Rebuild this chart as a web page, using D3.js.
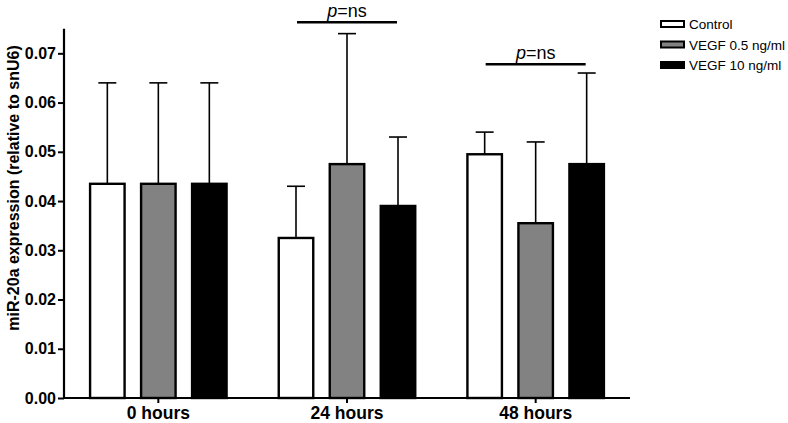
<!DOCTYPE html>
<html>
<head>
<meta charset="utf-8">
<script src="https://cdn.jsdelivr.net/npm/d3@7"></script>
<style>
  html, body { margin: 0; padding: 0; background: #fff; }
  svg { display: block; font-family: "Liberation Sans", Arial, Helvetica, sans-serif; }
</style>
</head>
<body>
<svg id="chart" width="788" height="423"></svg>
<script>
// ---- data ----
const groups = ["0 hours", "24 hours", "48 hours"];
const series = ["Control", "VEGF 0.5 ng/ml", "VEGF 10 ng/ml"];
const controlMean = [0.0435, 0.0325, 0.0495];
const controlErr  = [0.0640, 0.0430, 0.0540];
const lowMean     = [0.0435, 0.0475, 0.0355];
const lowErr      = [0.0640, 0.0740, 0.0520];
const highMean    = [0.0435, 0.0390, 0.0475];
const highErr     = [0.0640, 0.0530, 0.0660];
const yTicks = [0, 0.01, 0.02, 0.03, 0.04, 0.05, 0.06, 0.07];
const sigGroups = ["24 hours", "48 hours"];
const sigLevels = [0.0763, 0.0678];
const sigLabel = "ns";

const fills = ["#ffffff", "#828282", "#000000"];
const means = [controlMean, lowMean, highMean];
const errs = [controlErr, lowErr, highErr];

const svg = d3.select("#chart");
const left = 64, right = 630, bottom = 398;

const y = d3.scaleLinear().domain([0, 0.075]).range([bottom, 28.7]);
const x0 = d3.scaleBand().domain(groups).range([left, right]).paddingInner(0).paddingOuter(0);
const x1 = d3.scaleBand().domain(series).range([-68.25, 68.25]).paddingInner(0.3235).paddingOuter(0);

const data = [];
groups.forEach((g, gi) => {
  series.forEach((s, si) => {
    data.push({g, s, si, v: means[si][gi], e: errs[si][gi]});
  });
});

const cx = d => x0(d.g) + x0.bandwidth() / 2 + x1(d.s);

// error bars (drawn first, behind bars)
const eb = svg.append("g").attr("stroke", "#000").attr("stroke-width", 1.6);
data.forEach(d => {
  const mx = cx(d) + x1.bandwidth() / 2;
  eb.append("line").attr("x1", mx).attr("x2", mx).attr("y1", y(d.v)).attr("y2", y(d.e));
  eb.append("line").attr("x1", mx - 9).attr("x2", mx + 9).attr("y1", y(d.e)).attr("y2", y(d.e));
});

// bars
svg.append("g").selectAll("rect").data(data).join("rect")
  .attr("x", d => cx(d))
  .attr("y", d => y(d.v))
  .attr("width", x1.bandwidth())
  .attr("height", d => y(0) - y(d.v))
  .attr("fill", d => fills[d.si])
  .attr("stroke", "#000")
  .attr("stroke-width", 2.4);

// y axis
const yAxis = svg.append("g").attr("transform", `translate(${left},0)`)
  .call(d3.axisLeft(y).tickValues(yTicks).tickFormat(d3.format(".2f")).tickSize(6).tickPadding(2));
yAxis.select(".domain").remove();
yAxis.append("line").attr("x1", 0).attr("x2", 0).attr("y1", y(0) + 1).attr("y2", y(0.075))
  .attr("stroke", "#000").attr("stroke-width", 2.2);
yAxis.selectAll(".tick line").attr("stroke-width", 2);
yAxis.selectAll(".tick text").attr("font-size", 16).attr("font-weight", "bold").attr("fill", "#000")
  .attr("font-family", "Liberation Sans, Arial, sans-serif");

// x axis
const xAxis = svg.append("g").attr("transform", `translate(0,${bottom})`)
  .call(d3.axisBottom(x0).tickSize(5).tickPadding(4));
xAxis.select(".domain").remove();
xAxis.append("line").attr("x1", left - 1).attr("x2", right).attr("y1", 0).attr("y2", 0)
  .attr("stroke", "#000").attr("stroke-width", 2.2);
xAxis.selectAll(".tick line").attr("stroke-width", 2);
xAxis.selectAll(".tick text").attr("font-size", 17.5).attr("font-weight", "bold").attr("fill", "#000")
  .attr("font-family", "Liberation Sans, Arial, sans-serif");

// y title
svg.append("text")
  .attr("transform", `translate(19,188) rotate(-90)`)
  .attr("text-anchor", "middle")
  .attr("font-size", 16)
  .attr("font-weight", "bold")
  .text("miR-20a expression (relative to snU6)");

// significance annotations
sigGroups.forEach((g, i) => {
  const c = x0(g) + x0.bandwidth() / 2;
  svg.append("line").attr("x1", c - 50).attr("x2", c + 50)
    .attr("y1", y(sigLevels[i])).attr("y2", y(sigLevels[i]))
    .attr("stroke", "#000").attr("stroke-width", 2.5);
  const t = svg.append("text").attr("x", c).attr("y", y(sigLevels[i]) - 5.5)
    .attr("text-anchor", "middle").attr("font-size", 18);
  t.append("tspan").attr("font-style", "italic").text("p");
  t.append("tspan").text("=" + sigLabel);
});

// legend
const lg = svg.append("g");
series.forEach((s, i) => {
  const ly = 24 + i * 20.5;
  lg.append("rect").attr("x", 661).attr("y", ly - 3).attr("width", 23).attr("height", 6)
    .attr("fill", fills[i]).attr("stroke", "#000").attr("stroke-width", 2);
  lg.append("text").attr("x", 689).attr("y", ly + 5).attr("font-size", 13.5).text(s);
});
</script>
</body>
</html>
